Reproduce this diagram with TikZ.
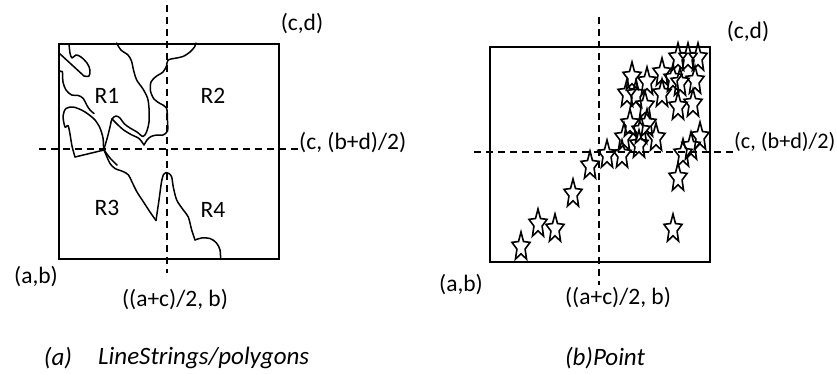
\documentclass[tikz,border=0pt]{standalone}
\usepackage{fontspec}
\setmainfont{Carlito}
\begin{document}
\begin{tikzpicture}[x=1pt,y=-1pt,
  frame/.style={line width=1.8pt},
  guide/.style={line width=1.3pt, dash pattern=on 7pt off 5pt},
  border/.style={line width=1.5pt, line join=round, line cap=round},
  starline/.style={line width=1.6pt, line join=miter},
  lbl/.style={inner sep=0pt, font=\fontsize{23.5}{28}\selectfont},
  capt/.style={inner sep=0pt, font=\fontsize{25}{30}\selectfont\itshape}]
\useasboundingbox (0,0) rectangle (837,373);

% ---------- (a) left panel ----------
\draw[frame] (59,44) rectangle (279,259);
\draw[guide] (167,5) -- (167,273);
\draw[guide] (39,149) -- (298,149);

% regions' boundaries
\draw[border] plot[smooth,tension=0.55] coordinates {(69,44) (70,53) (72,58) (76,55) (81,57) (87,63) (90,70) (89,76) (84,76)} -- (59,53);
\draw[border] plot[smooth,tension=0.55] coordinates {(59,72) (62.3,71.5) (63,82) (66,90) (71.7,95) (78.3,95.5) (83.3,98.5) (86.7,105) (90,110) (94,113.5)};
\draw[border] plot[smooth,tension=0.5] coordinates {(116.5,43) (121,50) (128,55) (131.5,61) (133.5,70) (136.7,80) (143,89) (147.5,98) (149,108) (149,122) (146.5,132) (143,136.5) (137,132) (130,128) (124,123.5) (120,118) (116,116) (112,119) (110,127) (107.5,137) (104,149)};
\draw[border] plot[smooth,tension=0.5] coordinates {(112,119) (117,124) (123,129.5) (131,134.5) (139,138.5) (144,145)};
\draw[border] plot[smooth,tension=0.5] coordinates {(144,145) (147,140) (151,136.5) (157,135) (163,135) (167.5,131) (167.5,121) (166.5,108) (160,103.5) (154,99) (150.5,91) (151,82) (156,76.5) (163,72) (166.5,66) (168,60) (175,58.3) (183,56.5) (190,52) (194.5,47) (196,43)};
\draw[border] plot[smooth,tension=0.5] coordinates {(75,157) (72,146) (70,134) (68,125.5) (65,127) (63,116) (66,108.5) (73,107) (81.5,110) (88,114) (95,120) (100,128) (103,138) (104,149) (110,158) (117,165)};
\draw[border] (75,157) -- (104,150);
\draw[border] plot[smooth,tension=0.5] coordinates {(104,150) (107,157) (110,163.5) (115,168.5) (123,171.5) (128.5,175) (132,182) (137,192) (143.5,202) (150,212) (156,220.5)};
\draw[border] plot[smooth,tension=0.5] coordinates {(156,220.5) (159,200) (161.5,182) (163.5,174.5) (166,172.5) (169,173.5) (171.7,177) (173.3,187) (176.7,200) (183.3,210) (188.3,217) (191.7,230) (195,240)};
\draw[border] plot[smooth,tension=0.6] coordinates {(195,240) (201.5,238) (210,238.5) (216.5,243) (220,250) (220.5,259)};

\node[lbl] (r1) at (107,96) {R1};
\node[lbl] (r2) at (213,96) {R2};
\node[lbl] (r3) at (107,208) {R3};
\node[lbl] (r4) at (213,210) {R4};
\node[lbl] (cdA) at (302,24) {(c,d)};
\node[lbl, anchor=west] (cmA) at (299,143) {(c, (b+d)/2)};
\node[lbl] (abA) at (36,277) {(a,b)};
\node[lbl] (amA) at (175,300) {((a+c)/2, b)};
\node[capt] (capa1) at (58,358) {(a)};
\node[capt, anchor=west] (capa2) at (98,358) {LineStrings/polygons};

% ---------- (b) right panel ----------
\draw[frame] (490,47) rectangle (710,262);
\draw[guide] (599,17) -- (599,285);
\draw[guide] (474,152) -- (733,152);

\foreach \px/\py in {521/247, 538/224, 555/229, 573/194, 590/166, 607/155, 622/155,
  624/138, 630/124, 639/145, 647/124, 656/138, 641/131,
  627/94, 632/77, 636/95, 647/82, 645/106, 662/73, 662/94, 673/79,
  678/58, 688/58, 698/58, 680/83, 695/81, 678/107, 693/104,
  700/137, 691/147, 683/154, 678/178, 673/229}
{
  \draw[starline, shift={(\px,\py)}, xscale=9.5, yscale=-15]
    (90:1) -- (126:0.45) -- (162:1) -- (198:0.45) -- (234:1) -- (270:0.45)
    -- (306:1) -- (342:0.45) -- (18:1) -- (54:0.45) -- cycle;
}

\node[lbl] (cdB) at (748,32) {(c,d)};
\node[lbl, anchor=west, font=\fontsize{22.2}{27}\selectfont] (cmB) at (734,142) {(c, (b+d)/2)};
\node[lbl] (abB) at (461,285) {(a,b)};
\node[lbl] (amB) at (618,298) {((a+c)/2, b)};
\node[capt] (capb) at (605,358) {(b)Point};
\end{tikzpicture}
\end{document}
